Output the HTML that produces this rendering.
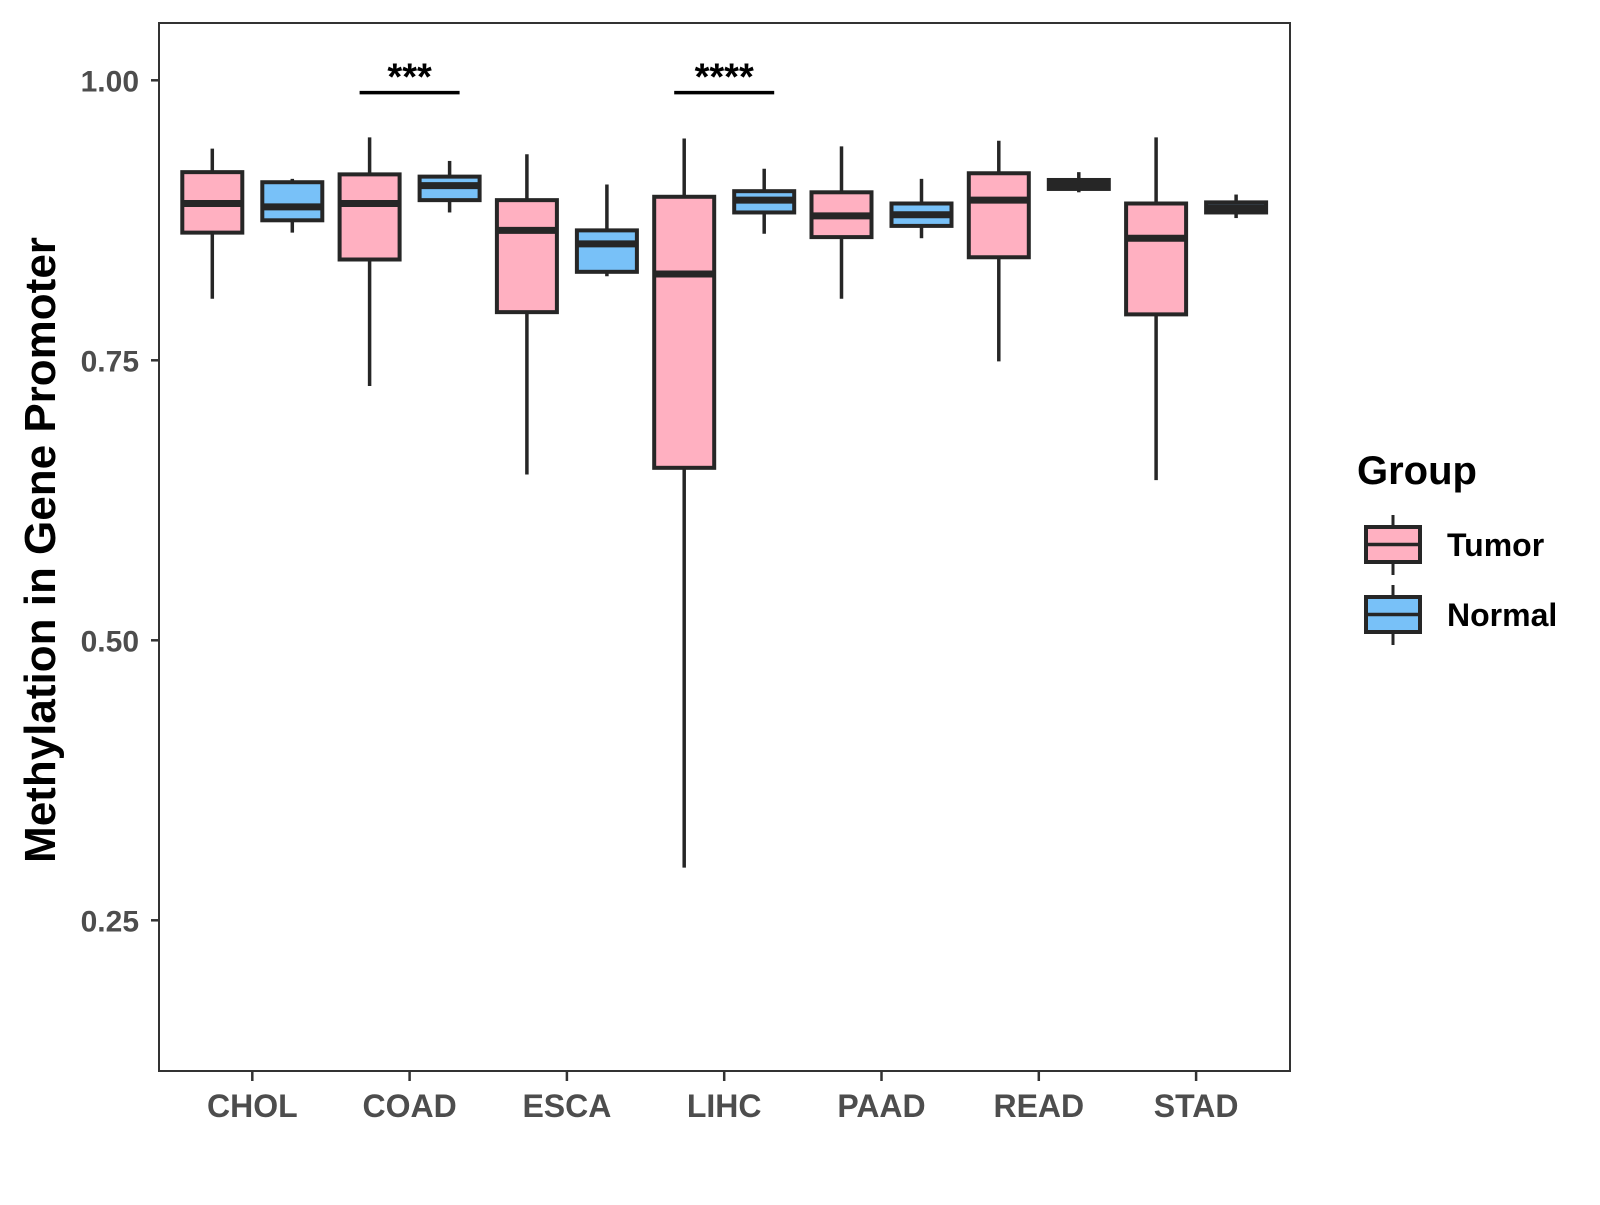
<!DOCTYPE html>
<html><head><meta charset="utf-8"><style>
body{margin:0;background:#fff}
text{font-family:"Liberation Sans",Arial,sans-serif}
</style></head><body>
<svg id="chart" width="1600" height="1200" viewBox="0 0 1600 1200" xmlns="http://www.w3.org/2000/svg">
<rect x="0" y="0" width="1600" height="1200" fill="#fff"/>
<g id="plot"></g>
</svg>
<script>
const categories=["CHOL","COAD","ESCA","LIHC","PAAD","READ","STAD"];
const groups=["Tumor","Normal"];
// [whiskerLow, Q1, median, Q3, whiskerHigh]
const tumorStats=[[0.805,0.864,0.890,0.918,0.939],[0.727,0.840,0.890,0.916,0.949],[0.648,0.793,0.866,0.893,0.934],[0.297,0.654,0.827,0.896,0.948],[0.805,0.860,0.879,0.900,0.941],[0.749,0.842,0.893,0.917,0.946],[0.643,0.791,0.859,0.890,0.949]];
const normalStats=[[0.864,0.875,0.887,0.909,0.912],[0.882,0.893,0.906,0.914,0.928],[0.825,0.829,0.854,0.866,0.907],[0.863,0.882,0.893,0.901,0.921],[0.859,0.870,0.880,0.890,0.912],[0.900,0.903,0.907,0.911,0.918],[0.877,0.882,0.886,0.891,0.898]];
const yTicks=[0.25,0.50,0.75,1.00];
const yTickLabels=["0.25","0.50","0.75","1.00"];
const sigCategories=["COAD","LIHC"];
const sigLabels=["***","****"];
const sigValues=[0.989,0.989];

const NS="http://www.w3.org/2000/svg";
const P={l:159,r:1290,t:23,b:1071};
const y=v=>80.3+(1-v)*1120;
const x=i=>252.3+157.3*i;
const g=document.getElementById('plot');
function mk(tag,attrs,parent){const e=document.createElementNS(NS,tag);for(const k in attrs)e.setAttribute(k,attrs[k]);(parent||g).appendChild(e);return e;}

const panel=mk('rect',{x:P.l,y:P.t,width:P.r-P.l,height:P.b-P.t,fill:'none',stroke:'#333',"stroke-width":2});



yTicks.forEach((v,i)=>{
  const t=mk('line',{x1:P.l-8,x2:P.l,y1:y(v),y2:y(v),stroke:'#333',"stroke-width":2.5});
  
  
  const l=mk('text',{x:P.l-20,y:y(v)+11,"text-anchor":'end',"font-size":30,"font-weight":'bold',fill:'#4d4d4d'});
  l.textContent=yTickLabels[i];
  
  
});
categories.forEach((c,i)=>{
  const t=mk('line',{x1:x(i),x2:x(i),y1:P.b,y2:P.b+10,stroke:'#333',"stroke-width":2.5});
  
  
  const l=mk('text',{x:x(i),y:P.b+46,"text-anchor":'middle',"font-size":32,"font-weight":'bold',fill:'#4d4d4d'});
  l.textContent=c;
  
  
});

function box(cx,s,fill,name){
  const w=60;
  const wh=mk('line',{x1:cx,x2:cx,y1:y(s[0]),y2:y(s[4]),stroke:'#262626',"stroke-width":3.5});
  
  
  const r=mk('rect',{x:cx-w/2,y:y(s[3]),width:w,height:Math.max(y(s[1])-y(s[3]),1),fill:fill,stroke:'#262626',"stroke-width":4});
  
  
  const m=mk('line',{x1:cx-w/2,x2:cx+w/2,y1:y(s[2]),y2:y(s[2]),stroke:'#262626',"stroke-width":7});
  
  
}
categories.forEach((c,i)=>{
  box(x(i)-40,tumorStats[i],'#FFB0C1',c.toLowerCase()+'-tumor');
  box(x(i)+40,normalStats[i],'#78C1F8',c.toLowerCase()+'-normal');
});
sigCategories.forEach((c,k)=>{
  const i=categories.indexOf(c);
  const ln=mk('line',{x1:x(i)-50,x2:x(i)+50,y1:y(sigValues[k]),y2:y(sigValues[k]),stroke:'#000',"stroke-width":3.5});
  
  
  const t=mk('text',{x:x(i),y:y(sigValues[k])-3,"text-anchor":'middle',"font-size":38,"font-weight":'bold',fill:'#000'});
  t.textContent=sigLabels[k];
  
  
});

const yt=mk('text',{x:0,y:0,transform:'translate(55,550) rotate(-90)',"text-anchor":'middle',"font-size":44,"font-weight":'bold',fill:'#000'});
yt.textContent='Methylation in Gene Promoter';



const lt=mk('text',{x:1357,y:484,"font-size":40,"font-weight":'bold',fill:'#000'});
lt.textContent='Group';


const legFill=['#FFB0C1','#78C1F8'];
groups.forEach((gname,k)=>{
  const top=527+k*70, cx=1393;
  const wl=mk('line',{x1:cx,x2:cx,y1:top-12,y2:top+48,stroke:'#262626',"stroke-width":3});
  
  
  const r=mk('rect',{x:1366,y:top,width:54,height:35,fill:legFill[k],stroke:'#262626',"stroke-width":4});
  
  
  const m=mk('line',{x1:1366,x2:1420,y1:top+17.5,y2:top+17.5,stroke:'#262626',"stroke-width":3.5});
  
  
  const t=mk('text',{x:1447,y:top+29,"font-size":32,"font-weight":'bold',fill:'#000'});
  t.textContent=gname;
  
  
});
</script>
</body></html>
